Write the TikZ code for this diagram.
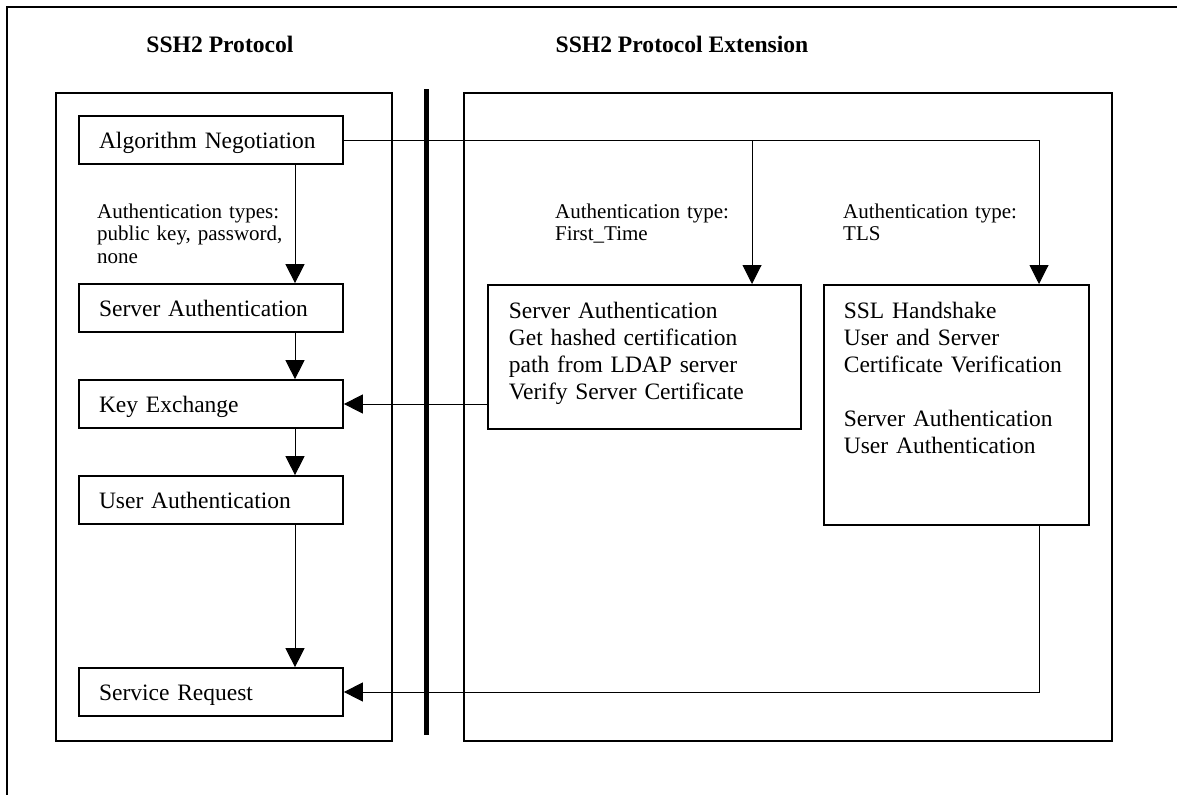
\documentclass[tikz,border=0pt]{standalone}
\usepackage{fontspec}
\setmainfont{Liberation Serif}
\usetikzlibrary{arrows.meta}
\newcommand\dgboxfont{\fontsize{23.5}{27}\selectfont}
\newcommand\dglblfont{\fontsize{21}{22.6}\selectfont}
\newcommand\dgtitlefont{\bfseries\fontsize{23.6}{27}\selectfont}
\begin{document}
\begin{tikzpicture}[x=1pt,y=-1pt,
  frame/.style={line width=2pt},
  panel/.style={draw, line width=1.9pt, inner sep=0pt, anchor=north west},
  stepbox/.style={draw, line width=1.7pt, inner xsep=20pt, inner ysep=0pt,
    text width=224pt, align=left, minimum height=48pt,
    text height=17pt, text depth=0pt, font=\dgboxfont},
  bigbox/.style={draw, line width=1.7pt, inner ysep=0pt, align=left,
    anchor=north west, text height=34pt, font=\dgboxfont},
  lbl/.style={inner sep=0pt, text width=240pt, align=left, anchor=base west, font=\dglblfont},
  title/.style={inner sep=0pt, anchor=base, font=\dgtitlefont},
  conn/.style={line width=1pt},
  arr/.style={conn, -{Triangle[width=19pt,length=19pt]}}
]
\useasboundingbox (0,0) rectangle (1177,795);

% outer frame (top and left edges)
\draw[frame] (1177,7) -- (7,7) -- (7,795);

% headings
\node[title] (t1) at (220,52) {SSH2 Protocol};
\node[title] (t2) at (682,52) {SSH2 Protocol Extension};

% the two panels
\node[panel, minimum width=336pt, minimum height=648pt] (lp) at (55,92) {};
\node[panel, minimum width=648pt, minimum height=648pt] (rp) at (463,92) {};

% standard SSH2 steps
\node[stepbox] (AN) at (211,140) {Algorithm Negotiation};
\node[stepbox] (SA) at (211,308) {Server Authentication};
\node[stepbox] (KE) at (211,404) {Key Exchange};
\node[stepbox] (UA) at (211,500) {User Authentication};
\node[stepbox] (SR) at (211,692) {Service Request};

% extension boxes
\node[bigbox, inner xsep=21pt, text width=271pt, text depth=110pt] (FT) at (487,284)
  {Server Authentication\\Get hashed certification\\path from LDAP server\\Verify Server Certificate};
\node[bigbox, inner xsep=20pt, text width=225pt, text depth=206pt] (SSL) at (823,284)
  {SSL Handshake\\User and Server\\Certificate Verification\\[27pt]Server Authentication\\User Authentication};

% labels
\node[lbl] (l1) at (97,218) {Authentication types:\\public key, password,\\none};
\node[lbl] (l2) at (555,218) {Authentication type:\\First\_Time};
\node[lbl] (l3) at (843,218) {Authentication type:\\TLS};

% columns of the vertical connectors
\coordinate (colx) at (295,0);
\coordinate (ftx) at (752,0);
\coordinate (tlsx) at (1039,0);

% connectors
\draw[arr] (AN.south -| colx) -- (SA.north -| colx);
\draw[arr] (SA.south -| colx) -- (KE.north -| colx);
\draw[arr] (KE.south -| colx) -- (UA.north -| colx);
\draw[arr] (UA.south -| colx) -- (SR.north -| colx);
\draw[arr] (AN.east) -- (AN.east -| tlsx) -- (SSL.north -| tlsx);
\draw[arr] (AN.east -| ftx) -- (FT.north -| ftx);
\draw[arr] (KE.east -| FT.west) -- (KE.east);
\draw[arr] (SSL.south -| tlsx) -- (SR.east -| tlsx) -- (SR.east);

% separator between the protocol and its extension
\draw[line width=5pt] (426.5,89) -- (426.5,735);
\end{tikzpicture}
\end{document}
